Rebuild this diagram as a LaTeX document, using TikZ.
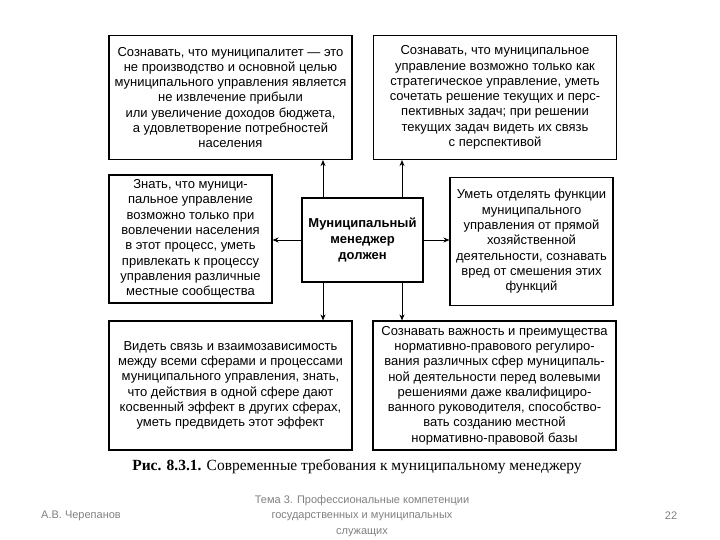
\documentclass[tikz,border=0pt]{standalone}
\usepackage{fontspec}
\setmainfont{Liberation Sans}
\newfontfamily\capfont{Liberation Serif}
\usetikzlibrary{arrows.meta}

\begin{document}
\begin{tikzpicture}[
                x=1pt, y=-1pt,
                box/.style = {draw, line width=1.1pt, inner sep=0pt, align=center,
                              font=\fontsize{13}{15.3}\selectfont},
                wide box/.style = {box, minimum width=243pt, minimum height=124pt},
                side box/.style = {box, minimum width=163pt, minimum height=128pt},
                manager/.style = {box, minimum width=121pt, minimum height=84pt,
                                  font=\bfseries\fontsize{13}{16}\selectfont},
                arrow/.style = {draw, line width=0.9pt, -{Stealth[length=6pt,width=5pt]}},
                footer/.style = {text=black!50, align=center, font=\fontsize{11}{15.5}\selectfont}
            ]
            \useasboundingbox (0,0) rectangle (720,540);
            % First the requirement boxes
            \node[wide box] (tl) at (230.5,97.5) {Сознавать, что муниципалитет — это\\
                не производство и основной целью\\
                муниципального управления является\\
                не извлечение прибыли\\
                или увеличение доходов бюджета,\\
                а удовлетворение потребностей\\
                населения};
            \node[wide box] (tr) at (495,97.5) {Сознавать, что муниципальное\\
                управление возможно только как\\
                стратегическое управление, уметь\\
                сочетать решение текущих и перс-\\
                пективных задач; при решении\\
                текущих задач видеть их связь\\
                с перспективой};
            \node[side box] (ml) at (190.5,239) {Знать, что муници-\\
                пальное управление\\
                возможно только при\\
                вовлечении населения\\
                в этот процесс, уметь\\
                привлекать к процессу\\
                управления различные\\
                местные сообщества};
            \node[side box] (mr) at (531.5,241.5) {Уметь отделять функции\\
                муниципального\\
                управления от прямой\\
                хозяйственной\\
                деятельности, сознавать\\
                вред от смешения этих\\
                функций};
            \node[wide box, minimum height=129pt] (bl) at (230.5,385.5) {Видеть связь и взаимозависимость\\
                между всеми сферами и процессами\\
                муниципального управления, знать,\\
                что действия в одной сфере дают\\
                косвенный эффект в других сферах,\\
                уметь предвидеть этот эффект};
            \node[wide box, minimum height=129pt] (br) at (494.5,385.5) {Сознавать важность и преимущества\\
                нормативно-правового регулиро-\\
                вания различных сфер муниципаль-\\
                ной деятельности перед волевыми\\
                решениями даже квалифициро-\\
                ванного руководителя, способство-\\
                вать созданию местной\\
                нормативно-правовой базы};
            % the manager in the middle
            \node[manager] (mgr) at (362.5,240) {Муниципальный\\менеджер\\должен};
            % Connect the manager with the boxes
            \foreach \dest/\dx in {tl/-39.5, tr/39.5}
                \path[arrow] ([xshift=\dx pt]mgr.north) -- ([xshift=\dx pt]mgr.north |- \dest.south);
            \foreach \dest/\dx in {bl/-39.5, br/39.5}
                \path[arrow] ([xshift=\dx pt]mgr.south) -- ([xshift=\dx pt]mgr.south |- \dest.north);
            \path[arrow] (mgr.west) -- (mgr.west -| ml.east);
            \path[arrow] (mgr.east) -- (mgr.east -| mr.west);
            % caption and footer
            \node (caption) at (357,467) {\capfont\fontsize{15.5}{17}\selectfont
                \textbf{Рис. 8.3.1.} Современные требования к муниципальному менеджеру};
            \node[footer] (author) at (81,516) {А.В. Черепанов};
            \node[footer] (topic) at (362,516) {Тема 3. Профессиональные компетенции\\
                государственных и муниципальных\\
                служащих};
            \node[footer] (page) at (671,516) {22};
        \end{tikzpicture}
\end{document}
